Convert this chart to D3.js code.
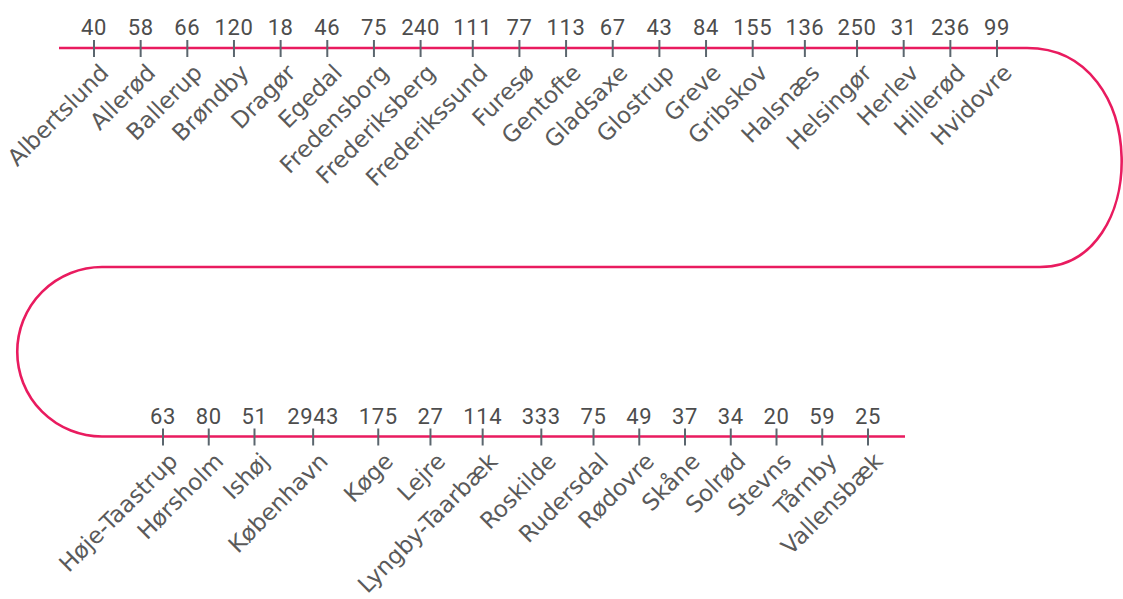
<!DOCTYPE html>
<html>
<head>
<meta charset="utf-8">
<script src="https://cdn.jsdelivr.net/npm/d3@7"></script>
<style>
  body { margin: 0; background: #fff; }
  svg { display: block; }
</style>
</head>
<body>
<svg id="chart"></svg>
<script>
// municipalities on the upper run of the line
const topNames = ['Albertslund', 'Allerød', 'Ballerup', 'Brøndby', 'Dragør', 'Egedal', 'Fredensborg',
  'Frederiksberg', 'Frederikssund', 'Furesø', 'Gentofte', 'Gladsaxe', 'Glostrup', 'Greve', 'Gribskov',
  'Halsnæs', 'Helsingør', 'Herlev', 'Hillerød', 'Hvidovre'];
const topValues = [40, 58, 66, 120, 18, 46, 75, 240, 111, 77, 113, 67, 43, 84, 155, 136, 250, 31, 236, 99];

// municipalities on the lower run of the line
const bottomNames = ['Høje-Taastrup', 'Hørsholm', 'Ishøj', 'København', 'Køge', 'Lejre', 'Lyngby-Taarbæk',
  'Roskilde', 'Rudersdal', 'Rødovre', 'Skåne', 'Solrød', 'Stevns', 'Tårnby', 'Vallensbæk'];
const bottomValues = [63, 80, 51, 2943, 175, 27, 114, 333, 75, 49, 37, 34, 20, 59, 25];

class SnakeLine {

  constructor(_config, _rows) {
    this.config = {
      parentElement: _config.parentElement,
      containerWidth: _config.containerWidth || 1123,
      containerHeight: _config.containerHeight || 599
    }
    this.rows = _rows;
    this.initVis();
  }

  initVis() {
    let vis = this;

    vis.svg = d3.select(vis.config.parentElement)
      .attr('width', vis.config.containerWidth)
      .attr('height', vis.config.containerHeight);

    // the snake: top run -> right bend -> middle run -> left bend -> bottom run
    const yTop = 48, yMid = 267, yBot = 436.5;
    const p = d3.path();
    p.moveTo(59, yTop);
    p.lineTo(1027, yTop);
    p.bezierCurveTo(1152, yTop, 1150, yMid, 1040, yMid);
    p.lineTo(102, yMid);
    p.arc(102, (yMid + yBot) / 2, (yBot - yMid) / 2, -Math.PI / 2, Math.PI / 2, true);
    p.lineTo(905, yBot);

    vis.svg.append('path')
      .attr('d', p.toString())
      .attr('fill', 'none')
      .attr('stroke', '#e91b5f')
      .attr('stroke-width', 2.6);

    // measure the value labels so wide numbers get more room
    const probe = vis.svg.append('text')
      .attr('font-family', 'Roboto')
      .attr('font-size', 22)
      .attr('letter-spacing', 0.6);
    const textW = s => { probe.text(s); return probe.node().getComputedTextLength(); };

    vis.rows.forEach(row => {
      let acc = 0;
      const offsets = row.values.map((v, i) => {
        if (i > 0) {
          const gap = (textW(row.values[i - 1]) + textW(v)) / 2 + row.pad;
          acc += Math.max(row.minGap, gap);
        }
        return acc;
      });
      const items = row.names.map((n, i) => ({ name: n, value: row.values[i], off: offsets[i] }));

      const x = d3.scaleLinear()
        .domain([0, acc])
        .range(row.range);

      const g = vis.svg.append('g')
        .attr('transform', `translate(0,${row.y})`);

      const tick = g.selectAll('.tick')
        .data(items)
        .enter()
        .append('g')
          .attr('class', 'tick')
          .attr('transform', d => `translate(${x(d.off)},0)`);

      tick.append('line')
        .attr('y1', -8)
        .attr('y2', 9)
        .attr('stroke', '#5b666e')
        .attr('stroke-width', 2);

      tick.append('text')
        .attr('y', -13)
        .attr('text-anchor', 'middle')
        .attr('font-family', 'Roboto')
        .attr('font-size', 22)
        .attr('letter-spacing', 0.6)
        .attr('fill', '#4d4d4d')
        .text(d => d.value);

      tick.append('text')
        .attr('transform', 'translate(4,14) rotate(-45)')
        .attr('dy', '0.75em')
        .attr('text-anchor', 'end')
        .attr('font-family', 'DejaVu Sans')
        .attr('font-size', 23)
        .attr('fill', '#5a5a5a')
        .text(d => d.name);
    });

    probe.remove();
  }
}

new SnakeLine({ parentElement: '#chart' }, [
  { names: topNames, values: topValues, y: 48, range: [94, 997], minGap: 50, pad: 17 },
  { names: bottomNames, values: bottomValues, y: 436.5, range: [163, 868], minGap: 45, pad: 20 }
]);
</script>
</body>
</html>
